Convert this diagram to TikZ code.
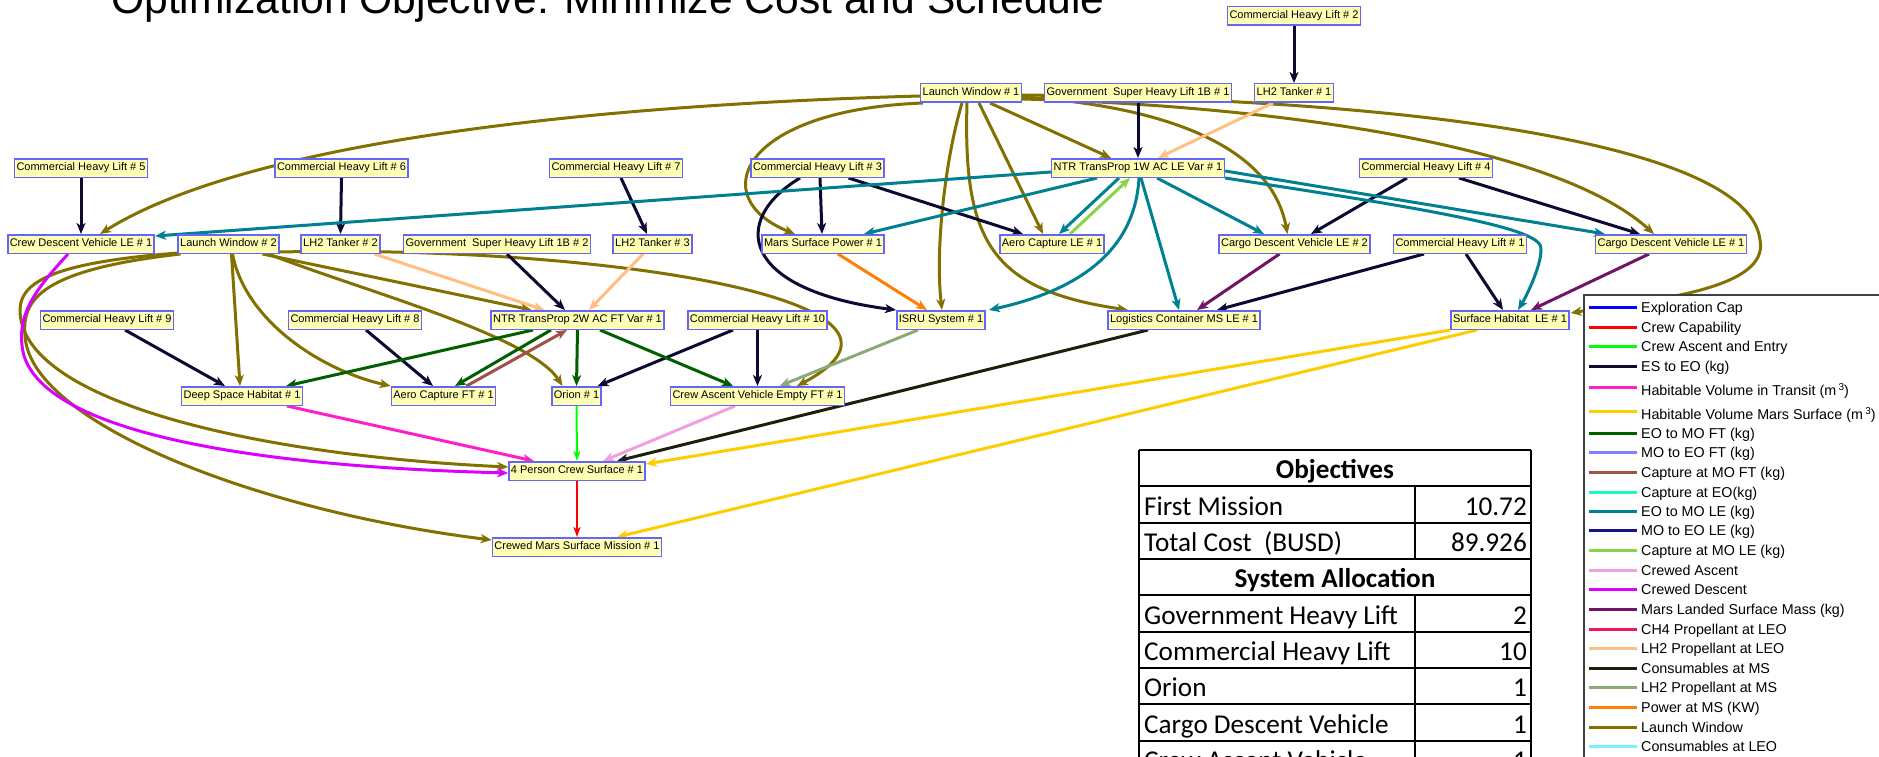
\documentclass[tikz,border=0pt]{standalone}
\usepackage{fontspec}
\setmainfont{Liberation Sans}
\newfontfamily\tabfont{Carlito}
\usetikzlibrary{arrows.meta,calc}
\pgfdeclarelayer{edges}
\pgfsetlayers{edges,main}

% node colours
\definecolor{nodefill}{RGB}{255,255,180}
\definecolor{nodeblue}{RGB}{100,100,255}
% flow colours
\definecolor{cExpl}{RGB}{0,0,255}
\definecolor{cCrewCap}{RGB}{255,0,0}
\definecolor{cAscEnt}{RGB}{0,255,0}
\definecolor{cEStoEO}{RGB}{10,10,50}
\definecolor{cHabTr}{RGB}{255,30,200}
\definecolor{cHabMS}{RGB}{255,204,0}
\definecolor{cEOMOft}{RGB}{0,96,0}
\definecolor{cMOEOft}{RGB}{128,128,255}
\definecolor{cCapMOft}{RGB}{160,82,72}
\definecolor{cCapEO}{RGB}{30,245,200}
\definecolor{cEOMOle}{RGB}{0,128,145}
\definecolor{cMOEOle}{RGB}{20,20,130}
\definecolor{cCapMOle}{RGB}{140,210,70}
\definecolor{cCrAsc}{RGB}{240,160,220}
\definecolor{cCrDesc}{RGB}{220,0,255}
\definecolor{cMLSM}{RGB}{112,20,100}
\definecolor{cCH4}{RGB}{240,20,90}
\definecolor{cLH2leo}{RGB}{255,190,130}
\definecolor{cConsMS}{RGB}{30,30,10}
\definecolor{cLH2ms}{RGB}{140,170,120}
\definecolor{cPower}{RGB}{255,128,0}
\definecolor{cLaunch}{RGB}{130,112,0}
\definecolor{cConsLEO}{RGB}{120,240,255}

\begin{document}
\begin{tikzpicture}[x=1pt,y=-1pt,
  box/.style={draw=nodeblue, fill=nodefill, line width=1.5pt,
    font=\fontsize{11}{13}\selectfont, inner xsep=2pt, inner ysep=0pt,
    minimum height=18.5pt, text height=8pt, text depth=2.3pt},
  flow/.style={line width=3pt, -{Stealth[length=11pt,width=9pt,inset=3pt]}},
  thinflow/.style={line width=2pt, -{Stealth[length=10pt,width=7pt,inset=2.5pt]}},
  legline/.style={line width=3pt},
  legtext/.style={anchor=base west, inner sep=0pt, font=\fontsize{14.3}{17}\selectfont},
  cellL/.style={anchor=base west, inner sep=0pt},
  cellR/.style={anchor=base east, inner sep=0pt},
  cellC/.style={anchor=base, inner sep=0pt, font=\tabfont\bfseries\fontsize{27.2}{32}\selectfont},
  grid/.style={line width=2pt, black}
]
\useasboundingbox (0,0) rectangle (1879,757);

% title
\node[anchor=base west, inner sep=0pt, font=\fontsize{42.6}{50}\selectfont] (title) at (111,14)
  {Optimization Objective: Minimize Cost and Schedule};

% ---------- nodes ----------
\node[box] (chl2) at (1294,16) {Commercial Heavy Lift \# 2};
\node[box] (lw1) at (971,93) {Launch Window \# 1};
\node[box] (gsh1) at (1138,93) {Government\ \ Super Heavy Lift 1B \# 1};
\node[box] (lh1) at (1294,93) {LH2 Tanker \# 1};
\node[box] (chl5) at (81,168) {Commercial Heavy Lift \# 5};
\node[box] (chl6) at (341.5,168) {Commercial Heavy Lift \# 6};
\node[box] (chl7) at (616,168) {Commercial Heavy Lift \# 7};
\node[box] (chl3) at (817.5,168) {Commercial Heavy Lift \# 3};
\node[box] (ntr1) at (1138,168) {NTR TransProp 1W AC LE Var \# 1};
\node[box] (chl4) at (1426,168) {Commercial Heavy Lift \# 4};
\node[box] (cdv1e) at (81,244) {Crew Descent Vehicle LE \# 1};
\node[box] (lw2) at (228.5,244) {Launch Window \# 2};
\node[box] (lh2) at (340.5,244) {LH2 Tanker \# 2};
\node[box] (gsh2) at (497,244) {Government\ \ Super Heavy Lift 1B \# 2};
\node[box] (lh3) at (652.5,244) {LH2 Tanker \# 3};
\node[box] (msp) at (823,244) {Mars Surface Power \# 1};
\node[box] (acle) at (1052,244) {Aero Capture LE \# 1};
\node[box] (cdl2) at (1294.5,244) {Cargo Descent Vehicle LE \# 2};
\node[box] (chl1) at (1460,244) {Commercial Heavy Lift \# 1};
\node[box] (cdl1) at (1671,244) {Cargo Descent Vehicle LE \# 1};
\node[box] (chl9) at (107,320) {Commercial Heavy Lift \# 9};
\node[box] (chl8) at (355,320) {Commercial Heavy Lift \# 8};
\node[box] (ntr2) at (577.5,320) {NTR TransProp 2W AC FT Var \# 1};
\node[box] (chl10) at (757.5,320) {Commercial Heavy Lift \# 10};
\node[box] (isru) at (941,320) {ISRU System \# 1};
\node[box] (logi) at (1184,320) {Logistics Container MS LE \# 1};
\node[box] (sh) at (1510,320) {Surface Habitat\ \ LE \# 1};
\node[box] (dsh) at (242,396) {Deep Space Habitat \# 1};
\node[box] (acft) at (443.5,396) {Aero Capture FT \# 1};
\node[box] (orion) at (576.5,396) {Orion \# 1};
\node[box] (cav) at (757.5,396) {Crew Ascent Vehicle Empty FT \# 1};
\node[box] (crew4) at (577,471) {4 Person Crew Surface \# 1};
\node[box] (cmsm) at (577,547) {Crewed Mars Surface Mission \# 1};

% ---------- connectors ----------
\begin{pgfonlayer}{edges}
% launch window flows
\draw[flow,cLaunch] ($(lw1.west)+(0,3)$) .. controls (600,105) and (250,140) .. ($(cdv1e.north)+(19,0)$);
\draw[flow,cLaunch] ($(lw1.south west)+(3,0)$) .. controls (740,110) and (705,198) .. ($(msp.north)+(-28,0)$);
\draw[flow,cLaunch] ($(lw1.south)+(-9,0)$) .. controls (945,160) and (935,250) .. ($(isru.north)+(1,0)$);
\draw[flow,cLaunch] ($(lw1.south)+(-4,0)$) .. controls (963,240) and (990,290) .. ($(logi.north)+(-56,0)$);
\draw[flow,cLaunch] ($(lw1.south)+(8,0)$) -- ($(acle.north)+(-9,0)$);
\draw[flow,cLaunch] ($(lw1.south)+(19,0)$) -- ($(ntr1.north)+(-27,0)$);
\draw[flow,cLaunch] ($(lw1.east)+(0,4)$) .. controls (1150,105) and (1270,140) .. ($(cdl2.north)+(-7,0)$);
\draw[flow,cLaunch] ($(lw1.east)+(0,6)$) .. controls (1250,105) and (1550,140) .. ($(cdl1.north)+(-17,0)$);
\draw[flow,cLaunch] ($(lw1.east)+(0,2)$) .. controls (1450,100) and (1750,150) .. (1760,240)
   .. controls (1770,290) and (1650,300) .. ($(sh.north east)+(1,3)$);
\draw[flow,cLaunch] ($(lw2.east)+(0,8)$) .. controls (600,245) and (960,300) .. ($(cav.north)+(39.5,0)$);
\draw[flow,cLaunch] ($(lw2.south)+(34,0)$) -- ($(ntr2.north)+(-46,0)$);
\draw[flow,cLaunch] ($(lw2.south)+(40,0)$) .. controls (360,290) and (530,335) .. ($(orion.north)+(-14,0)$);
\draw[flow,cLaunch] ($(lw2.south)+(4,0)$) .. controls (245,320) and (320,370) .. (acft.north west);
\draw[flow,cLaunch] ($(lw2.south)+(3,0)$) -- ($(dsh.north)+(-2,0)$);
\draw[flow,cLaunch] ($(lw2.south west)+(1,-1)$) .. controls (60,262) and (20,280) .. (20,310)
   .. controls (20,400) and (250,455) .. ($(crew4.west)+(0,-4)$);
\draw[flow,cLaunch] ($(lw2.south west)+(3,0)$) .. controls (40,270) and (22,300) .. (25,335)
   .. controls (28,420) and (250,510) .. ($(cmsm.north west)+(0,3)$);

% crewed descent
\draw[flow,cCrDesc] ($(cdv1e.south)+(-13,0)$) .. controls (40,285) and (18,310) .. (22,345)
   .. controls (28,420) and (200,465) .. ($(crew4.west)+(0,2)$);

% ES to EO
\draw[flow,cEStoEO] (chl5.south) -- (cdv1e.north);
\draw[flow,cEStoEO] (chl6.south) -- (lh2.north);
\draw[flow,cEStoEO] ($(chl7.south)+(5,0)$) -- ($(lh3.north)+(-5.5,0)$);
\draw[flow,cEStoEO] (chl2.south) -- (lh1.north);
\draw[flow,cEStoEO] (gsh1.south) -- (ntr1.north);
\draw[flow,cEStoEO] ($(gsh2.south)+(10,0)$) -- ($(ntr2.north)+(-12.5,0)$);
\draw[flow,cEStoEO] ($(chl9.south)+(18,0)$) -- ($(dsh.north)+(-17,0)$);
\draw[flow,cEStoEO] ($(chl8.south)+(11,0)$) -- ($(acft.north)+(-10.5,0)$);
\draw[flow,cEStoEO] ($(chl10.south)+(-24.5,0)$) -- ($(orion.north)+(21,0)$);
\draw[flow,cEStoEO] (chl10.south) -- (cav.north);
\draw[flow,cEStoEO] ($(chl3.south)+(-17.5,0)$) .. controls (730,220) and (740,290) .. (isru.north west);
\draw[flow,cEStoEO] ($(chl3.south)+(2.5,0)$) -- ($(msp.north)+(-1,0)$);
\draw[flow,cEStoEO] ($(chl3.south)+(31,0)$) -- ($(acle.north)+(-29,0)$);
\draw[flow,cEStoEO] ($(chl4.south)+(-19,0)$) -- ($(cdl2.north)+(16.5,0)$);
\draw[flow,cEStoEO] ($(chl4.south)+(33,0)$) -- ($(cdl1.north)+(-31,0)$);
\draw[flow,cEStoEO] ($(chl1.south)+(6,0)$) -- ($(sh.north)+(-7,0)$);
\draw[flow,cEStoEO] ($(chl1.south)+(-36,0)$) -- ($(logi.north)+(33,0)$);

% EO to MO LE
\draw[flow,cEOMOle] ($(ntr1.west)+(0,4)$) -- ($(cdv1e.north east)+(0,2)$);
\draw[flow,cEOMOle] ($(ntr1.south)+(-41,0)$) -- ($(msp.north)+(41,0)$);
\draw[flow,cEOMOle] ($(ntr1.south)+(-19,0)$) -- ($(acle.north)+(7,0)$);
\draw[flow,cEOMOle] ($(ntr1.south)+(1,0)$) .. controls (1135,250) and (1080,290) .. ($(isru.north east)+(3,0)$);
\draw[flow,cEOMOle] ($(ntr1.south)+(3,0)$) -- ($(logi.north)+(-5,0)$);
\draw[flow,cEOMOle] ($(ntr1.south)+(19,0)$) -- ($(cdl2.north)+(-30.5,0)$);
\draw[flow,cEOMOle] ($(ntr1.east)+(0,3)$) -- ($(cdl1.north)+(-66,0)$);
\draw[flow,cEOMOle] (ntr1.south east) .. controls (1400,205) and (1530,225) .. (1540,245)
   .. controls (1545,255) and (1530,290) .. ($(sh.north)+(8,0)$);

% capture at MO
\draw[flow,cCapMOle] ($(acle.north)+(18,0)$) -- ($(ntr1.south)+(-8,0)$);
\draw[flow,cCapMOft] ($(acft.north)+(23,0)$) -- ($(ntr2.south)+(-10.5,0)$);

% LH2 propellant at LEO
\draw[flow,cLH2leo] ($(lh1.south)+(-21,0)$) -- ($(ntr1.north)+(20,0)$);
\draw[flow,cLH2leo] ($(lh2.south)+(34,0)$) -- ($(ntr2.north)+(-33,0)$);
\draw[flow,cLH2leo] ($(lh3.south)+(-9.5,0)$) -- ($(ntr2.north)+(11.5,0)$);

% EO to MO FT
\draw[flow,cEOMOft] ($(ntr2.south)+(-44.5,0)$) -- ($(dsh.north)+(44,0)$);
\draw[flow,cEOMOft] ($(ntr2.south)+(-26.5,0)$) -- ($(acft.north)+(11.5,0)$);
\draw[flow,cEOMOft] (ntr2.south) -- (orion.north);
\draw[flow,cEOMOft] ($(ntr2.south)+(22.5,0)$) -- ($(cav.north)+(-24.5,0)$);

% surface resources
\draw[flow,cPower] ($(msp.south)+(15,0)$) -- ($(isru.north)+(-14,0)$);
\draw[flow,cLH2ms] ($(isru.south)+(-23,0)$) -- ($(cav.north)+(22,0)$);
\draw[flow,cMLSM] ($(cdl1.south)+(-22,0)$) -- ($(sh.north)+(21,0)$);
\draw[flow,cMLSM] ($(cdl2.south)+(-15,0)$) -- ($(logi.north)+(13,0)$);

% crew elements
\draw[thinflow,cAscEnt] (orion.south) -- (crew4.north);
\draw[flow,cHabTr] ($(dsh.south)+(45,0)$) -- ($(crew4.north)+(-43,0)$);
\draw[flow,cCrAsc] ($(cav.south)+(-22.5,0)$) -- ($(crew4.north)+(26,0)$);
\draw[flow,cConsMS] ($(logi.south)+(-36,0)$) -- ($(crew4.north)+(40,0)$);
\draw[flow,cHabMS] (sh.south west) -- ($(crew4.north east)+(0,3)$);
\draw[flow,cHabMS] ($(sh.south)+(-33,0)$) -- ($(cmsm.north)+(40,0)$);
\draw[thinflow,cCrewCap] (crew4.south) -- (cmsm.north);
\end{pgfonlayer}

% ---------- legend ----------
\draw[line width=1.2pt, black!75, fill=white] (1584,295) rectangle (1900,780);
\foreach \i/\ly/\ty/\c/\t in {
  1/307.3/312.4/cExpl/{Exploration Cap},
  2/327/332.1/cCrewCap/{Crew Capability},
  3/346.7/351.8/cAscEnt/{Crew Ascent and Entry},
  4/366.3/371.4/cEStoEO/{ES to EO (kg)},
  5/387.3/395.1/cHabTr/{Habitable Volume in Transit (m\,\raisebox{0.55ex}{\fontsize{10}{12}\selectfont 3})},
  6/411/419/cHabMS/{Habitable Volume Mars Surface (m\,\raisebox{0.55ex}{\fontsize{10}{12}\selectfont 3})},
  7/433/438.1/cEOMOft/{EO to MO FT (kg)},
  8/452.7/457.8/cMOEOft/{MO to EO FT (kg)},
  9/472.3/477.4/cCapMOft/{Capture at MO FT (kg)},
  10/492/497.1/cCapEO/{Capture at EO(kg)},
  11/511.3/516.4/cEOMOle/{EO to MO LE (kg)},
  12/530.7/535.8/cMOEOle/{MO to EO LE (kg)},
  13/550.3/555.4/cCapMOle/{Capture at MO LE (kg)},
  14/570/575.1/cCrAsc/{Crewed Ascent},
  15/589.7/594.8/cCrDesc/{Crewed Descent},
  16/609.3/614.4/cMLSM/{Mars Landed Surface Mass (kg)},
  17/629/634.1/cCH4/{CH4 Propellant at LEO},
  18/648.3/653.4/cLH2leo/{LH2 Propellant at LEO},
  19/668/673.1/cConsMS/{Consumables at MS},
  20/687.7/692.8/cLH2ms/{LH2 Propellant at MS},
  21/707.3/712.4/cPower/{Power at MS (KW)},
  22/727/732.1/cLaunch/{Launch Window},
  23/746.7/751.8/cConsLEO/{Consumables at LEO}}{
  \coordinate (ls\i) at (1589,\ly);
  \coordinate (le\i) at (1637,\ly);
  \draw[legline,\c] (ls\i) -- (le\i);
  \node[legtext] (lt\i) at (1641,\ty) {\t};
}

% ---------- objectives table ----------
\begin{scope}[font=\tabfont\fontsize{27.2}{32}\selectfont]
\fill[white] (1139,450) rectangle (1531,790);
\foreach \r in {450,486.33,522.67,559,595.33,631.67,668,704.33,740.67}
  \draw[grid] (1139,\r) -- (1531,\r);
\draw[grid] (1139,450) -- (1139,790);
\draw[grid] (1531,450) -- (1531,790);
\draw[grid] (1415,486.33) -- (1415,559);
\draw[grid] (1415,595.33) -- (1415,790);

\node[cellC] (hobj) at (1335,478.6) {Objectives};
\node[cellL] (tfm) at (1144,515) {First Mission};
\node[cellR] (vfm) at (1527,515) {10.72};
\node[cellL] (ttc) at (1144,551.3) {Total Cost\ \ (BUSD)};
\node[cellR] (vtc) at (1527,551.3) {89.926};
\node[cellC] (hsys) at (1335,587.6) {System Allocation};
\node[cellL] (tgh) at (1144,624) {Government Heavy Lift};
\node[cellR] (vgh) at (1527,624) {2};
\node[cellL] (tch) at (1144,660.3) {Commercial Heavy Lift};
\node[cellR] (vch) at (1527,660.3) {10};
\node[cellL] (tor) at (1144,696.6) {Orion};
\node[cellR] (vor) at (1527,696.6) {1};
\node[cellL] (tcd) at (1144,733) {Cargo Descent Vehicle};
\node[cellR] (vcd) at (1527,733) {1};
\node[cellL] (tca) at (1144,769.3) {Crew Ascent Vehicle};
\node[cellR] (vca) at (1527,769.3) {1};
\end{scope}
\end{tikzpicture}
\end{document}
